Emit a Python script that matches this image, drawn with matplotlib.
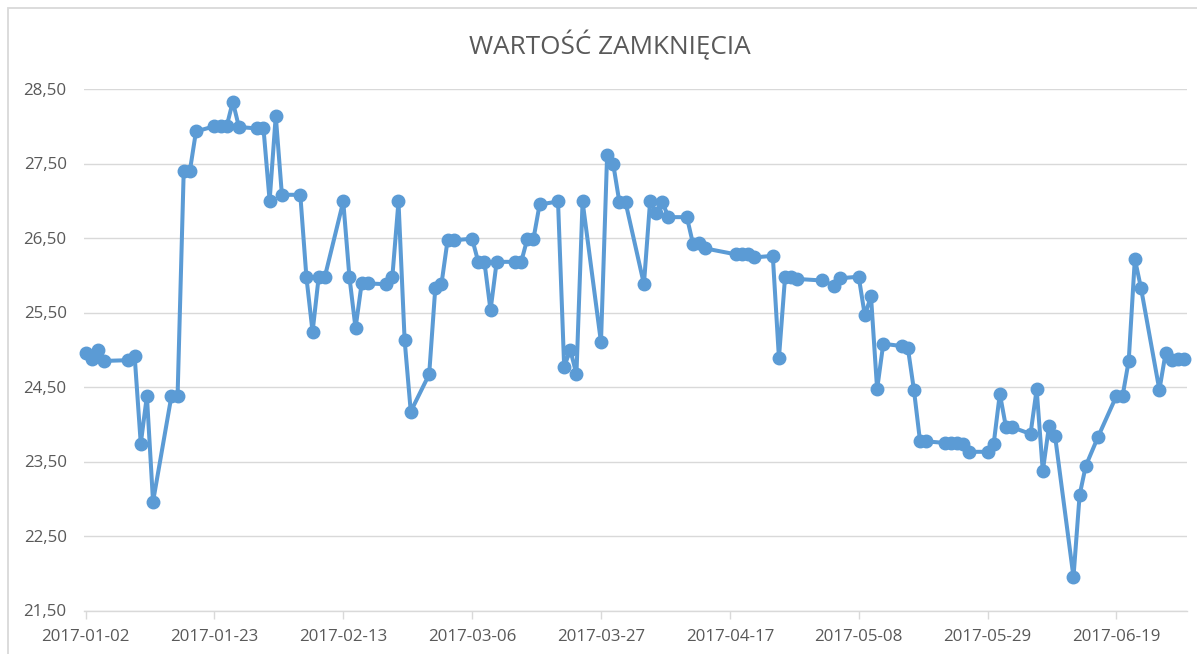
import matplotlib
matplotlib.use("Agg")
import matplotlib.pyplot as plt
from matplotlib.patches import Rectangle
import pandas as pd

dates = [
    "2017-01-02", "2017-01-03", "2017-01-04", "2017-01-05", "2017-01-09", "2017-01-10",
    "2017-01-11", "2017-01-12", "2017-01-13", "2017-01-16", "2017-01-17", "2017-01-18",
    "2017-01-19", "2017-01-20", "2017-01-23", "2017-01-24", "2017-01-25", "2017-01-26",
    "2017-01-27", "2017-01-30", "2017-01-31", "2017-02-01", "2017-02-02", "2017-02-03",
    "2017-02-06", "2017-02-07", "2017-02-08", "2017-02-09", "2017-02-10", "2017-02-13",
    "2017-02-14", "2017-02-15", "2017-02-16", "2017-02-17", "2017-02-20", "2017-02-21",
    "2017-02-22", "2017-02-23", "2017-02-24", "2017-02-27", "2017-02-28", "2017-03-01",
    "2017-03-02", "2017-03-03", "2017-03-06", "2017-03-07", "2017-03-08", "2017-03-09",
    "2017-03-10", "2017-03-13", "2017-03-14", "2017-03-15", "2017-03-16", "2017-03-17",
    "2017-03-20", "2017-03-21", "2017-03-22", "2017-03-23", "2017-03-24", "2017-03-27",
    "2017-03-28", "2017-03-29", "2017-03-30", "2017-03-31", "2017-04-03", "2017-04-04",
    "2017-04-05", "2017-04-06", "2017-04-07", "2017-04-10", "2017-04-11", "2017-04-12",
    "2017-04-13", "2017-04-18", "2017-04-19", "2017-04-20", "2017-04-21", "2017-04-24",
    "2017-04-25", "2017-04-26", "2017-04-27", "2017-04-28", "2017-05-02", "2017-05-04",
    "2017-05-05", "2017-05-08", "2017-05-09", "2017-05-10", "2017-05-11", "2017-05-12",
    "2017-05-15", "2017-05-16", "2017-05-17", "2017-05-18", "2017-05-19", "2017-05-22",
    "2017-05-23", "2017-05-24", "2017-05-25", "2017-05-26", "2017-05-29", "2017-05-30",
    "2017-05-31", "2017-06-01", "2017-06-02", "2017-06-05", "2017-06-06", "2017-06-07",
    "2017-06-08", "2017-06-09", "2017-06-12", "2017-06-13", "2017-06-14", "2017-06-16",
    "2017-06-19", "2017-06-20", "2017-06-21", "2017-06-22", "2017-06-23", "2017-06-26",
    "2017-06-27", "2017-06-28", "2017-06-29", "2017-06-30",
]
close_values = [
    24.95, 24.87, 24.99, 24.85, 24.86, 24.92,
    23.74, 24.38, 22.96, 24.38, 24.38, 27.40,
    27.40, 27.93, 28.00, 28.00, 28.00, 28.33,
    27.99, 27.97, 27.97, 27.00, 28.14, 27.08,
    27.08, 25.97, 25.24, 25.98, 25.98, 26.99,
    25.98, 25.29, 25.89, 25.89, 25.88, 25.98,
    26.99, 25.13, 24.17, 24.67, 25.83, 25.88,
    26.47, 26.47, 26.49, 26.18, 26.18, 25.53,
    26.18, 26.18, 26.18, 26.49, 26.49, 26.95,
    26.99, 24.77, 25.00, 24.67, 26.99, 25.10,
    27.62, 27.49, 26.98, 26.98, 25.88, 26.99,
    26.84, 26.98, 26.78, 26.78, 26.42, 26.43,
    26.36, 26.28, 26.28, 26.28, 26.24, 26.26,
    24.89, 25.98, 25.98, 25.95, 25.93, 25.86,
    25.96, 25.98, 25.46, 25.72, 24.47, 25.08,
    25.05, 25.03, 24.46, 23.77, 23.77, 23.75,
    23.75, 23.75, 23.74, 23.63, 23.63, 23.74,
    24.41, 23.96, 23.96, 23.87, 24.47, 23.37,
    23.97, 23.84, 21.95, 23.05, 23.44, 23.83,
    24.38, 24.38, 24.85, 26.22, 25.83, 24.46,
    24.95, 24.86, 24.87, 24.88,
]
x_tick_labels = ["2017-01-02", "2017-01-23", "2017-02-13", "2017-03-06", "2017-03-27",
                 "2017-04-17", "2017-05-08", "2017-05-29", "2017-06-19"]
y_ticks = [21.5, 22.5, 23.5, 24.5, 25.5, 26.5, 27.5, 28.5]
title = "WARTOŚĆ ZAMKNIĘCIA"

text_color = "#595959"
grid_color = "#D9D9D9"
line_color = "#5B9BD5"

plt.rcParams["font.family"] = ["Open Sans", "DejaVu Sans"]

x = pd.to_datetime(dates)
xt = pd.to_datetime(x_tick_labels)

W, H = 1197, 654
fig = plt.figure(figsize=(W / 100, H / 100), dpi=100)
fig.patch.set_facecolor("white")

# chart-area border (cut off at right and bottom edges as in the reference)
fig.patches.append(Rectangle((7.5 / W, -0.05), 1.1, (H - 7.5) / H + 0.05,
                             transform=fig.transFigure, fill=False,
                             edgecolor=grid_color, linewidth=1.3))

left, right, top, bottom = 84, 1187, 89, 610.5
ax = fig.add_axes([left / W, 1 - bottom / H, (right - left) / W, (bottom - top) / H])
ax.plot(x, close_values, color=line_color, linewidth=2.9, marker="o",
        markersize=9, markerfacecolor=line_color, markeredgecolor=line_color,
        clip_on=False, zorder=3)

ax.set_xlim(pd.Timestamp("2017-01-01 18:00"), pd.Timestamp("2017-06-30 12:00"))
ax.set_ylim(21.5, 28.5)
ax.set_yticks(y_ticks)
ax.set_yticklabels([f"{v:.2f}".replace(".", ",") for v in y_ticks])
ax.set_xticks(xt)
ax.set_xticklabels(x_tick_labels)

ax.grid(axis="y", color=grid_color, linewidth=1.0, zorder=0)
ax.set_axisbelow(True)
for s in ["top", "right", "left"]:
    ax.spines[s].set_visible(False)
ax.spines["bottom"].set_color(grid_color)
ax.spines["bottom"].set_linewidth(1.0)

ax.tick_params(axis="y", length=0, pad=12.5, labelsize=12.2, labelcolor=text_color)
ax.tick_params(axis="x", length=5.5, width=1.0, color=grid_color, pad=8,
               labelsize=12.2, labelcolor=text_color, direction="out")

fig.text(610 / W, 1 - 45 / H, title, ha="center", va="center",
         fontsize=18.8, color=text_color)

fig.savefig("out.png", dpi=100, facecolor=fig.get_facecolor())
